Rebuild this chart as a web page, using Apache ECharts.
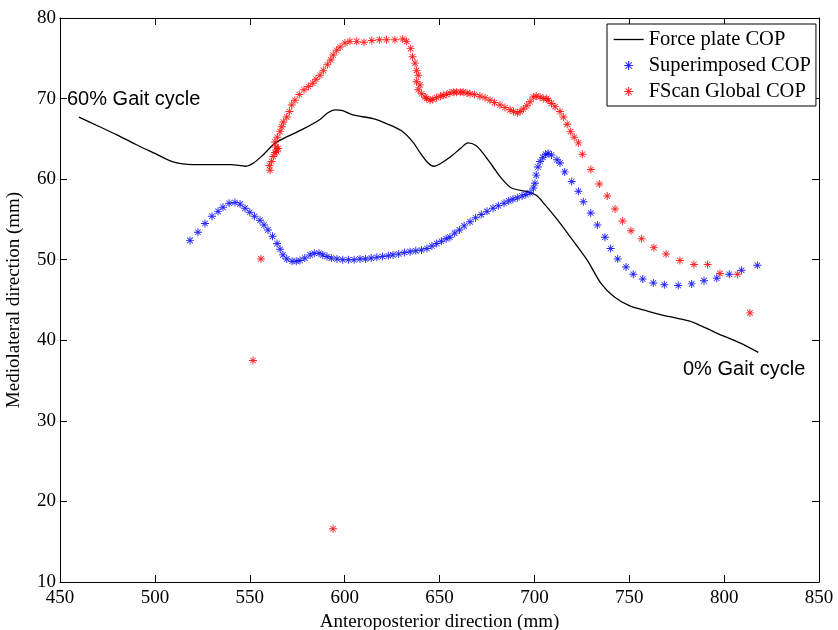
<!DOCTYPE html>
<html>
<head>
<meta charset="utf-8">
<script src="https://cdn.jsdelivr.net/npm/echarts@6/dist/echarts.min.js"></script>
<style>
  html, body { margin: 0; padding: 0; background: #fff; }
  #chart { width: 838px; height: 630px; }
</style>
</head>
<body>
<div id="chart"></div>
<script>
// Axis ticks
const xTicks = [450, 500, 550, 600, 650, 700, 750, 800, 850];
const yTicks = [10, 20, 30, 40, 50, 60, 70, 80];

// Force plate centre of pressure (continuous trace)
const forceX = [460, 470, 480, 490, 500, 510, 520, 530, 540, 548, 552, 557, 563, 570, 578, 587, 591, 595, 599, 604, 615, 622, 630, 636, 640, 644, 647, 651, 656, 661, 665, 669, 673, 678, 683, 688, 697, 701, 705, 712, 719, 728, 735, 742, 750, 760, 768, 776, 784, 796, 808, 818];
const forceY = [67.7, 66.6, 65.5, 64.3, 63.2, 62.1, 61.8, 61.8, 61.8, 61.6, 62.0, 63.0, 64.4, 65.3, 66.2, 67.4, 68.2, 68.6, 68.5, 68.0, 67.5, 66.9, 66.0, 64.6, 63.2, 62.0, 61.6, 62.0, 62.8, 63.8, 64.5, 64.2, 63.2, 61.6, 60.0, 58.9, 58.4, 58.0, 57.0, 55.0, 52.8, 49.9, 47.1, 45.4, 44.3, 43.6, 43.1, 42.7, 42.2, 40.9, 39.7, 38.5];

// Superimposed COP samples
const superX = [518.5, 522.7, 526.4, 530.1, 533.3, 535.9, 539.1, 542.2, 544.9, 547.5, 550.0, 552.5, 555.4, 557.5, 559.6, 562.0, 564.4, 566.0, 567.5, 569.5, 572.3, 574.5, 576.5, 579.0, 581.8, 584.0, 586.5, 588.5, 590.7, 593.0, 596.0, 599.0, 602.0, 605.0, 608.1, 611.0, 614.0, 617.0, 620.0, 623.0, 625.5, 628.5, 631.5, 634.5, 637.5, 640.5, 643.4, 646.0, 648.5, 651.0, 653.5, 655.5, 658.0, 660.5, 663.0, 666.1, 669.0, 672.0, 675.0, 678.2, 681.0, 684.0, 686.5, 688.7, 691.0, 693.5, 695.5, 697.7, 699.5, 700.3, 701.0, 701.9, 703.0, 704.5, 706.0, 707.2, 709.0, 711.9, 713.5, 716.0, 719.7, 723.2, 725.8, 729.7, 733.2, 737.2, 740.2, 743.9, 748.3, 752.1, 757.1, 762.7, 768.5, 775.8, 782.9, 789.4, 796.1, 802.7, 809.2, 817.5];
const superY = [52.4, 53.4, 54.5, 55.4, 56.0, 56.5, 57.0, 57.1, 56.9, 56.4, 55.9, 55.4, 54.9, 54.3, 53.7, 52.9, 52.0, 51.3, 50.6, 50.1, 49.8, 49.8, 49.9, 50.2, 50.6, 50.8, 50.8, 50.6, 50.4, 50.2, 50.1, 50.0, 50.0, 50.0, 50.1, 50.1, 50.2, 50.3, 50.4, 50.5, 50.6, 50.7, 50.9, 51.0, 51.1, 51.2, 51.4, 51.7, 52.0, 52.3, 52.6, 52.8, 53.3, 53.7, 54.2, 54.7, 55.2, 55.6, 56.0, 56.4, 56.7, 57.0, 57.3, 57.5, 57.7, 57.9, 58.1, 58.3, 58.9, 59.5, 60.5, 61.5, 62.2, 62.7, 63.1, 63.2, 63.0, 62.4, 62.0, 60.9, 59.7, 58.5, 57.2, 55.8, 54.3, 52.8, 51.4, 50.1, 49.1, 48.2, 47.6, 47.1, 46.9, 46.8, 47.0, 47.4, 47.7, 48.2, 48.7, 49.3];

// FScan global COP samples
const fscanX = [560.7, 560.3, 561.5, 562.4, 563.3, 564.2, 565.0, 563.8, 563.3, 564.5, 566.0, 566.9, 567.7, 569.5, 570.9, 572.1, 573.8, 576.1, 578.6, 580.9, 583.2, 584.9, 587.0, 588.8, 590.9, 592.7, 594.0, 595.8, 597.6, 600.2, 602.8, 606.4, 610.2, 614.3, 618.3, 622.1, 626.5, 630.6, 632.7, 634.8, 635.8, 637.1, 637.9, 638.8, 637.9, 639.7, 638.8, 640.6, 642.4, 643.2, 645.0, 646.5, 648.5, 650.5, 652.0, 653.8, 655.5, 657.5, 659.0, 661.0, 662.5, 664.5, 666.1, 668.5, 671.3, 674.0, 676.6, 679.0, 681.9, 684.5, 687.2, 689.0, 691.0, 692.5, 694.2, 696.0, 697.7, 699.4, 701.0, 703.0, 704.7, 706.5, 707.3, 709.0, 710.9, 713.5, 715.3, 717.3, 719.1, 721.0, 723.2, 725.3, 729.8, 734.2, 738.4, 742.5, 746.5, 750.9, 756.5, 763.0, 769.4, 776.7, 784.1, 791.3, 797.8, 807.0, 813.6, 555.9, 551.7, 593.9];
const fscanY = [61.1, 61.7, 62.2, 62.8, 63.3, 63.4, 63.8, 64.0, 64.6, 65.2, 65.9, 66.5, 67.1, 67.7, 68.4, 69.2, 69.8, 70.5, 71.1, 71.5, 71.9, 72.4, 72.9, 73.5, 74.2, 74.8, 75.4, 76.0, 76.4, 76.9, 77.1, 77.1, 77.0, 77.2, 77.3, 77.3, 77.3, 77.4, 77.1, 76.2, 75.2, 74.4, 73.5, 72.9, 72.1, 71.7, 71.1, 70.6, 70.2, 70.0, 69.8, 69.9, 70.1, 70.3, 70.4, 70.5, 70.7, 70.8, 70.8, 70.8, 70.8, 70.7, 70.6, 70.5, 70.3, 70.1, 69.8, 69.5, 69.2, 68.9, 68.6, 68.4, 68.2, 68.4, 68.7, 69.1, 69.6, 70.2, 70.3, 70.2, 70.0, 70.0, 69.8, 69.4, 69.0, 68.4, 67.7, 66.8, 65.9, 65.2, 64.5, 63.1, 61.2, 59.4, 57.9, 56.3, 54.8, 53.6, 52.6, 51.5, 50.7, 49.9, 49.4, 49.4, 48.3, 48.2, 43.4, 50.1, 37.5, 16.6];

const seriesNames = ['Force plate COP', 'Superimposed COP', 'FScan Global COP'];

// Asterisk marker drawn as a filled path (four thin bars)
const asterisk = 'path://M4.4 0H5.6V10H4.4Z M0 4.4H10V5.6H0Z M1.2 1.9L1.9 1.2L8.8 8.1L8.1 8.8Z M8.1 1.2L8.8 1.9L1.9 8.8L1.2 8.1Z';

const zip = (xs, ys) => xs.map((x, i) => [x, ys[i]]);

const serif = 'Liberation Serif';
const sans = 'Liberation Sans';

const chart = echarts.init(document.getElementById('chart'), null, { renderer: 'canvas' });

const xMin = xTicks[0], xMax = xTicks[xTicks.length - 1];
const yMin = yTicks[0], yMax = yTicks[yTicks.length - 1];
const xStep = xTicks[1] - xTicks[0];
const yStep = yTicks[1] - yTicks[0];

const axisLine = { show: true, lineStyle: { color: '#000', width: 1 } };
const innerTick = { show: true, inside: true, length: 7, lineStyle: { color: '#000', width: 1 } };

chart.setOption({
  animation: false,
  backgroundColor: '#fff',
  grid: { left: 60, right: 19, top: 18, bottom: 48, containLabel: false, outerBoundsMode: 'none' },
  legend: {
    orient: 'vertical',
    left: 607,
    top: 24,
    padding: [5, 5, 4, 6],
    itemGap: 5,
    itemWidth: 30,
    itemHeight: 9,
    backgroundColor: '#fff',
    borderColor: '#000',
    borderWidth: 1,
    borderRadius: 0,
    data: [
      // plain line sample, no point marker
      { name: seriesNames[0], itemStyle: { color: 'rgba(0,0,0,0)', borderWidth: 0 }, lineStyle: { color: '#000', width: 1.3 } },
      { name: seriesNames[1] },
      { name: seriesNames[2] }
    ],
    textStyle: { fontFamily: serif, fontSize: 20.5, color: '#000', lineHeight: 21 }
  },
  xAxis: [
    {
      type: 'value', position: 'bottom', min: xMin, max: xMax, interval: xStep,
      axisLine, axisTick: innerTick, splitLine: { show: false },
      axisLabel: { color: '#000', fontFamily: serif, fontSize: 19, margin: 7 },
      name: 'Anteroposterior direction (mm)', nameLocation: 'middle', nameGap: 28,
      nameTextStyle: { color: '#000', fontFamily: serif, fontSize: 19 }
    },
    {
      type: 'value', position: 'top', min: xMin, max: xMax, interval: xStep,
      axisLine, axisTick: innerTick, splitLine: { show: false }, axisLabel: { show: false }
    }
  ],
  yAxis: [
    {
      type: 'value', position: 'left', min: yMin, max: yMax, interval: yStep,
      axisLine, axisTick: innerTick, splitLine: { show: false },
      axisLabel: { color: '#000', fontFamily: serif, fontSize: 19, margin: 4 },
      name: 'Mediolateral direction (mm)', nameLocation: 'middle', nameGap: 36, nameRotate: 90,
      nameTextStyle: { color: '#000', fontFamily: serif, fontSize: 19 }
    },
    {
      type: 'value', position: 'right', min: yMin, max: yMax, interval: yStep,
      axisLine, axisTick: innerTick, splitLine: { show: false }, axisLabel: { show: false }
    }
  ],
  series: [
    {
      name: seriesNames[0], type: 'line', data: zip(forceX, forceY),
      smooth: 0.3, symbol: 'none', lineStyle: { color: '#000', width: 1.3 },
      itemStyle: { color: '#000' }, z: 2
    },
    {
      name: seriesNames[1], type: 'scatter', data: zip(superX, superY),
      symbol: asterisk, symbolSize: 8, itemStyle: { color: '#0000ff', opacity: 0.85 }, z: 3
    },
    {
      name: seriesNames[2], type: 'scatter', data: zip(fscanX, fscanY),
      symbol: asterisk, symbolSize: 8, itemStyle: { color: '#ff0000', opacity: 0.85 }, z: 4
    }
  ],
  graphic: [
    { type: 'text', left: 67, top: 89, style: { text: '60% Gait cycle', font: '20px "' + sans + '"', fill: '#000' } },
    { type: 'text', left: 683, top: 359, style: { text: '0% Gait cycle', font: '20px "' + sans + '"', fill: '#000' } }
  ]
});
</script>
</body>
</html>
